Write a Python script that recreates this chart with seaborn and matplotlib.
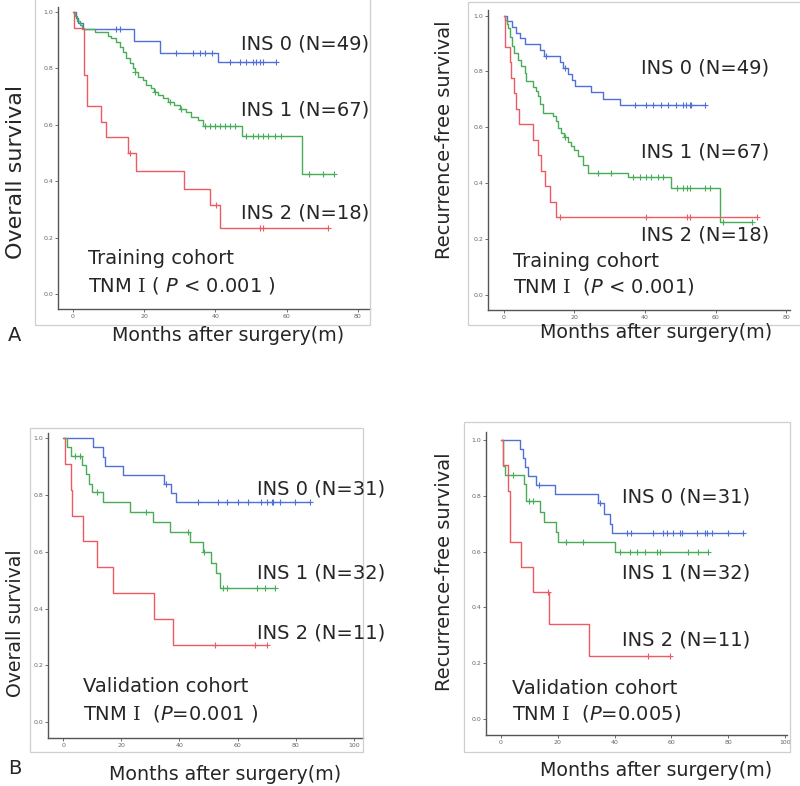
import numpy as np
import matplotlib
matplotlib.use("Agg")
import matplotlib.pyplot as plt
from matplotlib.patches import Rectangle
import seaborn as sns

sns.set_style("ticks")
plt.rcParams["font.family"] = ["DejaVu Sans", "Noto Sans CJK SC"]
# serif roman numeral via \mathrm, sans italic P
plt.rcParams["mathtext.fontset"] = "custom"
plt.rcParams["mathtext.rm"] = "DejaVu Serif"
plt.rcParams["mathtext.it"] = "DejaVu Sans:italic"

# ---- Training cohort, overall survival (event times, survival after event, censor times)
tl_blue_t = [0.8, 1.5, 2.8, 17.1, 24.3, 40.7]
tl_blue_s = [0.98, 0.96, 0.939, 0.898, 0.855, 0.823]
tl_blue_c = [12.2, 13.1, 29.0, 33.7, 35.6, 37.0, 39.0, 44.0, 46.8, 48.6, 50.5, 51.5, 52.4, 53.3, 57.0]
tl_green_t = [0.5, 1.2, 2.0, 2.5, 6.1, 9.8, 10.8, 12.2, 13.1, 14.0, 15.0, 15.9, 16.8, 17.3, 18.2,
              19.7, 20.6, 22.0, 22.7, 23.9, 25.3, 26.7, 28.5, 30.0, 31.8, 33.2, 35.1, 36.5, 47.4, 64.4]
tl_green_s = [0.985, 0.97, 0.955, 0.94, 0.928, 0.916, 0.907, 0.893, 0.877, 0.859, 0.836, 0.818, 0.80,
              0.788, 0.771, 0.759, 0.741, 0.729, 0.717, 0.706, 0.694, 0.682, 0.67, 0.658, 0.647, 0.629,
              0.617, 0.597, 0.561, 0.425]
tl_green_c = [17.5, 23.0, 27.2, 30.4, 37.0, 38.4, 39.8, 41.2, 42.6, 44.0, 45.4, 48.6, 50.5, 51.9,
              53.3, 54.7, 56.6, 58.5, 66.4, 70.2, 73.4]
tl_red_t = [0.2, 3.1, 4.0, 7.9, 9.4, 15.4, 17.8, 31.3, 38.4, 41.4]
tl_red_s = [0.944, 0.778, 0.667, 0.611, 0.556, 0.5, 0.436, 0.374, 0.315, 0.236]
tl_red_c = [15.9, 40.2, 52.4, 53.3, 71.6]

# ---- Training cohort, recurrence-free survival
tr_blue_t = [1.0, 2.2, 3.3, 4.6, 6.0, 10.3, 11.5, 15.8, 16.8, 18.2, 19.2, 20.1, 24.8, 28.0, 33.0]
tr_blue_s = [0.98, 0.959, 0.939, 0.918, 0.898, 0.877, 0.856, 0.835, 0.813, 0.792, 0.77, 0.748,
             0.726, 0.703, 0.681]
tr_blue_c = [12.0, 17.2, 37.1, 40.4, 42.3, 44.6, 46.5, 48.9, 50.8, 51.7, 52.7, 53.1, 57.0]
tr_green_t = [0.4, 0.8, 1.3, 1.8, 2.2, 3.0, 4.0, 4.9, 5.9, 6.3, 8.2, 9.2, 9.6, 10.1, 11.1, 13.9,
              14.8, 15.3, 16.3, 17.0, 18.2, 19.1, 20.0, 21.0, 22.4, 23.8, 35.2, 47.5, 61.3]
tr_green_s = [0.985, 0.97, 0.955, 0.925, 0.89, 0.866, 0.842, 0.818, 0.795, 0.765, 0.745, 0.729,
              0.711, 0.685, 0.651, 0.639, 0.621, 0.597, 0.579, 0.564, 0.549, 0.532, 0.52, 0.496,
              0.466, 0.437, 0.421, 0.383, 0.26]
tr_green_c = [17.2, 26.7, 30.5, 36.6, 38.5, 40.4, 41.8, 43.7, 45.1, 49.0, 50.9, 51.8, 52.7, 57.0,
              58.4, 62.2, 70.3]
tr_red_t = [0.4, 1.6, 2.1, 3.0, 3.5, 4.2, 8.2, 9.6, 10.6, 11.6, 13.0, 14.9]
tr_red_s = [0.889, 0.833, 0.778, 0.722, 0.667, 0.611, 0.556, 0.5, 0.444, 0.389, 0.333, 0.278]
tr_red_c = [15.8, 40.4, 51.8, 52.7, 71.7]

# ---- Validation cohort, overall survival
bl_blue_t = [10.3, 13.7, 14.3, 20.6, 34.7, 37.2, 38.7]
bl_blue_s = [0.968, 0.935, 0.903, 0.871, 0.838, 0.806, 0.774]
bl_blue_c = [35.2, 46.4, 53.3, 56.2, 60.2, 63.6, 68.2, 70.0, 71.7, 72.2, 74.5, 79.7, 84.9]
bl_green_t = [1.5, 2.6, 6.5, 8.0, 9.0, 10.0, 13.8, 22.9, 31.0, 36.6, 43.5, 48.1, 51.0, 52.7, 54.0]
bl_green_s = [0.969, 0.938, 0.905, 0.872, 0.84, 0.811, 0.776, 0.741, 0.706, 0.67, 0.635, 0.6,
              0.56, 0.525, 0.472]
bl_green_c = [4.0, 5.7, 11.5, 28.6, 43.0, 48.5, 55.0, 56.4, 66.5, 69.4, 72.8]
bl_red_t = [0.8, 2.6, 3.2, 6.9, 11.8, 17.2, 31.2, 37.8]
bl_red_s = [0.909, 0.818, 0.727, 0.636, 0.545, 0.455, 0.364, 0.273]
bl_red_c = [52.2, 66.0, 70.0]

# ---- Validation cohort, recurrence-free survival
br_blue_t = [6.5, 7.6, 8.6, 9.4, 12.3, 19.1, 34.0, 36.4, 38.2, 39.1]
br_blue_s = [0.968, 0.935, 0.903, 0.871, 0.839, 0.806, 0.774, 0.735, 0.70, 0.666]
br_blue_c = [13.5, 34.9, 44.2, 45.9, 53.6, 57.1, 58.3, 60.6, 63.0, 63.6, 68.9, 71.8, 72.4, 74.2,
             80.0, 85.3]
br_green_t = [0.6, 1.5, 8.2, 8.8, 13.6, 15.2, 19.4, 20.0, 40.3]
br_green_s = [0.906, 0.875, 0.843, 0.78, 0.744, 0.708, 0.672, 0.636, 0.598]
br_green_c = [4.1, 10.0, 11.2, 22.9, 28.8, 41.9, 45.4, 47.8, 50.7, 54.8, 56.0, 66.0, 69.5, 73.0]
br_red_t = [0.6, 2.3, 3.2, 7.0, 11.1, 17.0, 31.1]
br_red_s = [0.909, 0.818, 0.636, 0.545, 0.455, 0.341, 0.227]
br_red_c = [16.7, 51.9, 59.5]

group_colors = ["#4f70d8", "#48ad57", "#ee5a64"]

W, H = 800, 786
fig = plt.figure(figsize=(W / 100, H / 100), dpi=100)


def fx(px):
    return px / W


def fy(py):
    return 1 - py / H


def km_curve(ax, times, surv, cens, color):
    end = max(cens)
    x = [0.0] + list(times) + [end]
    y = [1.0] + list(surv) + [surv[-1]]
    sns.lineplot(x=x, y=y, drawstyle="steps-post", color=color, lw=1.0,
                 estimator=None, sort=False, ax=ax)
    levels = np.array([1.0] + list(surv))
    idx = np.searchsorted(np.array(times), np.array(cens), side="right")
    sns.scatterplot(x=cens, y=levels[idx], marker="+", s=14, color=color,
                    linewidth=0.8, ax=ax, zorder=3)


def panel(box, frame, xlim, ylim, xmax, curves):
    l, t, r, b = box
    ax = fig.add_axes([fx(l), fy(b), fx(r - l), (b - t) / H])
    for (tt, ss, cc), col in zip(curves, group_colors):
        km_curve(ax, tt, ss, cc, col)
    ax.set_xlim(*xlim)
    ax.set_ylim(*ylim)
    ax.set_xticks(np.arange(0, xmax + 1, 20))
    ax.set_yticks(np.arange(0, 1.01, 0.2))
    ax.set_yticklabels([f"{v:.1f}" for v in np.arange(0, 1.01, 0.2)])
    ax.tick_params(labelsize=4.5, labelcolor="#666666", length=2.5, width=0.6, pad=1,
                   color="#555555")
    for s in ["top", "right"]:
        ax.spines[s].set_visible(False)
    for s in ["left", "bottom"]:
        ax.spines[s].set_color("#555555")
        ax.spines[s].set_linewidth(1.0)
    ax.set_xlabel("")
    ax.set_ylabel("")
    fl, ft, fr, fb = frame
    fig.patches.append(Rectangle((fx(fl), fy(fb)), fx(fr - fl), (fb - ft) / H,
                                 transform=fig.transFigure, fill=False,
                                 edgecolor="#cfcfcf", lw=0.9, zorder=0))
    return ax


def label(px, py, s, size=14, **kw):
    fig.text(fx(px), fy(py), s, fontsize=size, va="center", color="#262626", **kw)


# A: training cohort
panel((58, 7, 370, 309), (35, -2, 370, 325), (-4.2, 83.4), (-0.053, 1.018), 80,
      [(tl_blue_t, tl_blue_s, tl_blue_c), (tl_green_t, tl_green_s, tl_green_c),
       (tl_red_t, tl_red_s, tl_red_c)])
label(241, 44, "INS 0 (N=49)")
label(241, 110, "INS 1 (N=67)")
label(241, 213, "INS 2 (N=18)")
label(88, 258, "Training cohort")
label(88, 285, r"TNM $\mathrm{I}$ ( $P$ < 0.001 )")
label(228, 335, "Months after surgery(m)", 13.7, ha="center")
label(16, 172, "Overall survival", 16, ha="center", rotation=90)
label(8, 335, "A", 14)

panel((488, 10, 790, 310), (468, 2, 801, 325), (-4.5, 81.1), (-0.054, 1.02), 80,
      [(tr_blue_t, tr_blue_s, tr_blue_c), (tr_green_t, tr_green_s, tr_green_c),
       (tr_red_t, tr_red_s, tr_red_c)])
label(641, 68, "INS 0 (N=49)")
label(641, 152, "INS 1 (N=67)")
label(641, 235, "INS 2 (N=18)")
label(513, 262, "Training cohort")
label(513, 287, r"TNM $\mathrm{I}$  ($P$ < 0.001)")
label(656, 333, "Months after surgery(m)", 13.7, ha="center")
label(445, 140, "Recurrence-free survival", 14, ha="center", rotation=90)

# B: validation cohort
panel((48, 433, 363, 738), (30, 428, 363, 752), (-5.2, 103.1), (-0.056, 1.018), 100,
      [(bl_blue_t, bl_blue_s, bl_blue_c), (bl_green_t, bl_green_s, bl_green_c),
       (bl_red_t, bl_red_s, bl_red_c)])
label(257, 489, "INS 0 (N=31)")
label(257, 573, "INS 1 (N=32)")
label(257, 633, "INS 2 (N=11)")
label(83, 687, "Validation cohort")
label(83, 713, r"TNM $\mathrm{I}$  ($P$=0.001 )")
label(225, 775, "Months after surgery(m)", 13.7, ha="center")
label(16, 623, "Overall survival", 13.6, ha="center", rotation=90)
label(8, 768, "B", 14)

panel((486, 432, 787, 735), (464, 422, 790, 752), (-5.3, 100.7), (-0.057, 1.029), 100,
      [(br_blue_t, br_blue_s, br_blue_c), (br_green_t, br_green_s, br_green_c),
       (br_red_t, br_red_s, br_red_c)])
label(622, 497, "INS 0 (N=31)")
label(622, 573, "INS 1 (N=32)")
label(622, 640, "INS 2 (N=11)")
label(512, 688, "Validation cohort")
label(512, 713, r"TNM $\mathrm{I}$  ($P$=0.005)")
label(656, 771, "Months after surgery(m)", 13.7, ha="center")
label(445, 572, "Recurrence-free survival", 14, ha="center", rotation=90)

fig.savefig("out.png", dpi=100)
